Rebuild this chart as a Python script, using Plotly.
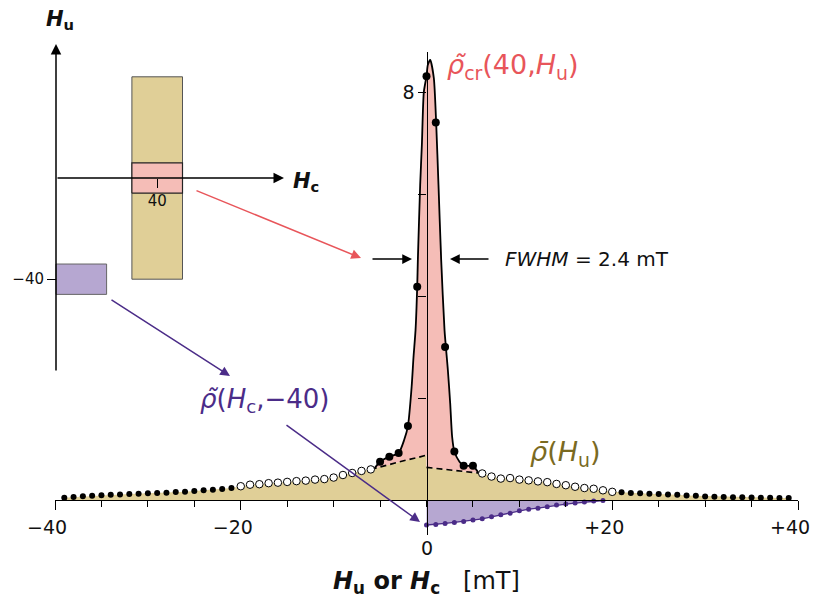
import plotly.graph_objects as go

# ---------------- data ----------------
# rho-bar(H_u): left branch -39..0 and right branch 0..39 (discontinuous at 0)
Hu_left = list(range(-39, 1))
rho_bar_left = [0.046, 0.059, 0.072, 0.085, 0.092, 0.105, 0.11, 0.118, 0.124, 0.13,
                0.137, 0.144, 0.157, 0.163, 0.176, 0.19, 0.20, 0.216, 0.235,
                0.27, 0.30, 0.31, 0.33, 0.34, 0.355, 0.37, 0.38, 0.40, 0.41, 0.44,
                0.49, 0.53, 0.57, 0.60,
                0.65, 0.69, 0.74, 0.79, 0.83, 0.88]
Hu_right = list(range(0, 40))
rho_bar_right = [0.64, 0.62, 0.60, 0.58, 0.56, 0.54,
                 0.52, 0.46, 0.42, 0.43, 0.40, 0.385, 0.365, 0.35, 0.315, 0.29,
                 0.26, 0.235, 0.22, 0.19, 0.16,
                 0.15, 0.135, 0.13, 0.125, 0.12, 0.11, 0.105, 0.09, 0.085, 0.07,
                 0.065, 0.06, 0.055, 0.055, 0.05, 0.045, 0.045, 0.04, 0.04]

# rho_cr(40, H_u): measured points near the peak
Hu_pts = [-5, -4, -3, -2, -1, 0, 1, 2, 3, 4, 5]
rho_cr_pts = [0.75, 0.85, 0.92, 1.45, 4.18, 8.31, 7.40, 3.0, 0.95, 0.67, 0.67]

# rho_cr fitted curve
fit_x = [-5.6, -5, -4, -3, -2.4, -2.0, -1.6, -1.4, -1.18, -1.0, -0.93, -0.68, -0.5,
         -0.29, 0, 0.14, 0.4, 0.79, 1.04, 1.29, 1.58, 1.94, 2.3, 2.55, 2.76, 3.0,
         3.55, 4, 5, 5.6]
fit_y = [0.62, 0.75, 0.85, 0.92, 1.18, 1.45, 2.22, 2.8, 3.33, 4.18, 4.71, 6.18, 6.96,
         8.0, 8.31, 8.53, 8.63, 8.27, 7.40, 6.18, 4.71, 3.33, 2.55, 1.9, 1.24, 0.95,
         0.75, 0.67, 0.67, 0.53]

# rho(H_c, -40)
Hc_pur = list(range(0, 20))
rho_pur = [-0.49, -0.48, -0.46, -0.44, -0.42, -0.39, -0.37, -0.33, -0.29, -0.26,
           -0.21, -0.18, -0.16, -0.13, -0.10, -0.08, -0.06, -0.04, -0.02, -0.01]

# inset schematic (H_c, H_u in mT)
inset_tan_Hc = [30, 50]
inset_tan_Hu = [-40, 40]
inset_band_Hu = [-6, 6]
inset_pur_Hc = [0, 20]
inset_pur_Hu = [-46, -34]

x_tickvals = [-40, -20, 20, 40]
x_ticktext = ["\u221240", "\u221220", "+20", "+40"]
y_tickvals = [2, 4, 6, 8]
y_ticktext = ["", "", "", "8"]

# ---------------- styling / geometry ----------------
W, H = 814, 605
L, R, T, B = 55, 16, 52, 70
PW, PH = W - L - R, H - T - B
Y0_PX, PX_PER_UNIT = 500, 51.0
ymin = -(H - B - Y0_PX) / PX_PER_UNIT
ymax = (Y0_PX - T) / PX_PER_UNIT

INSET_O = (56, 178)
INSET_S = 2.53
inset_xdom = [0, 0.45]

TAN = "#E0CF97"
PINK = "#F5BDB7"
PURF = "#B6A7D1"
PURL = "#4B2C88"
RED = "#E8555A"
OLIVE = "#7A6A22"
FONT = "DejaVu Sans"


def P(px, py):
    return (px - L) / PW, (H - B - py) / PH


def centered_number(t):
    # keep the digits centred on the tick, sign hanging to the left
    if t[0] in "+\u2212":
        return t + "<span style='color:rgba(0,0,0,0)'>" + t[0] + "</span>"
    return t


fig = go.Figure()

# tan fill under rho-bar
fig.add_trace(go.Scatter(x=Hu_left + Hu_right, y=rho_bar_left + rho_bar_right,
                         mode="lines", line=dict(width=0), fill="tozeroy",
                         fillcolor=TAN, hoverinfo="skip"))
# pink area between dashed baseline and peak curve
k = 6
px_poly = fit_x + Hu_right[:k][::-1] + Hu_left[-k:][::-1]
py_poly = fit_y + rho_bar_right[:k][::-1] + rho_bar_left[-k:][::-1]
fig.add_trace(go.Scatter(x=px_poly, y=py_poly, mode="lines", line=dict(width=0),
                         fill="toself", fillcolor=PINK, hoverinfo="skip"))
# purple
fig.add_trace(go.Scatter(x=Hc_pur, y=rho_pur, mode="lines+markers",
                         line=dict(color=PURL, width=1.3), fill="tozeroy",
                         fillcolor=PURF, marker=dict(size=5, color=PURL)))
# dashed continuation of rho-bar under the peak
dx = Hu_left[-(k + 1):] + [None] + Hu_right[:k + 1]
dy = rho_bar_left[-(k + 1):] + [None] + rho_bar_right[:k + 1]
fig.add_trace(go.Scatter(x=dx, y=dy, mode="lines",
                         line=dict(color="black", width=1.6, dash="6px,4px")))
# peak curve
fig.add_trace(go.Scatter(x=fit_x, y=fit_y, mode="lines",
                         line=dict(color="black", width=1.8, shape="spline", smoothing=0.6)))

# markers
allx = Hu_left[:-1] + Hu_right[1:]
ally = rho_bar_left[:-1] + rho_bar_right[1:]
tail = [(x, y) for x, y in zip(allx, ally) if abs(x) >= 21]
openc = [(x, y) for x, y in zip(allx, ally) if 6 <= abs(x) <= 20]
fig.add_trace(go.Scatter(x=[p[0] for p in tail], y=[p[1] for p in tail], mode="markers",
                         marker=dict(size=6, color="black")))
fig.add_trace(go.Scatter(x=[p[0] for p in openc], y=[p[1] for p in openc], mode="markers",
                         marker=dict(size=7.5, color="white", line=dict(color="black", width=1))))
fig.add_trace(go.Scatter(x=Hu_pts, y=rho_cr_pts, mode="markers",
                         marker=dict(size=8, color="black")))

# inset rectangles (on inset axes)
def rect(xs, ys):
    return [xs[0], xs[1], xs[1], xs[0], xs[0]], [ys[0], ys[0], ys[1], ys[1], ys[0]]

rx, ry = rect(inset_tan_Hc, inset_tan_Hu)
fig.add_trace(go.Scatter(x=rx, y=ry, xaxis="x2", yaxis="y2", mode="lines", fill="toself",
                         fillcolor=TAN, line=dict(color="#555555", width=1)))
rx, ry = rect(inset_tan_Hc, inset_band_Hu)
fig.add_trace(go.Scatter(x=rx, y=ry, xaxis="x2", yaxis="y2", mode="lines", fill="toself",
                         fillcolor=PINK, line=dict(color="#222222", width=1.2)))
rx, ry = rect(inset_pur_Hc, inset_pur_Hu)
fig.add_trace(go.Scatter(x=rx, y=ry, xaxis="x2", yaxis="y2", mode="lines", fill="toself",
                         fillcolor=PURF, line=dict(color="#666666", width=1)))

# inset axis ranges from pixel geometry
x2_range = [(L + inset_xdom[0] * PW - INSET_O[0]) / INSET_S,
            (L + inset_xdom[1] * PW - INSET_O[0]) / INSET_S]
y2_range = [(INSET_O[1] - (H - B)) / INSET_S, (INSET_O[1] - T) / INSET_S]

fig.update_layout(
    width=W, height=H, margin=dict(l=L, r=R, t=T, b=B, autoexpand=False),
    paper_bgcolor="white", plot_bgcolor="rgba(0,0,0,0)", showlegend=False,
    font=dict(family=FONT, color="#111111"),
    xaxis=dict(range=[-40, 40], domain=[0, 1], anchor="free", automargin=False,
               position=(0 - ymin) / (ymax - ymin),
               showline=True, linecolor="black", linewidth=1.3, showgrid=False,
               zeroline=False, ticks="outside", ticklen=9, tickwidth=1.3,
               tickcolor="black", tickvals=x_tickvals,
               ticktext=[centered_number(t) for t in x_ticktext],
               tickfont=dict(size=19, family=FONT), ticklabelstandoff=1,
               ticklabeloverflow="allow",
               minor=dict(dtick=5, tick0=0, ticks="outside", ticklen=6,
                          tickwidth=1.2, tickcolor="black")),
    yaxis=dict(range=[ymin, ymax], domain=[0, 1], anchor="free", position=0.5,
               automargin=False,
               showline=True, linecolor="black", linewidth=1.3, showgrid=False,
               zeroline=False, ticks="outside", ticklen=8, tickwidth=1.2,
               tickcolor="black", tickvals=y_tickvals, ticktext=y_ticktext,
               tickfont=dict(size=19, family=FONT)),
    xaxis2=dict(domain=inset_xdom, range=x2_range, anchor="free", automargin=False,
                position=(H - B - INSET_O[1]) / PH, showline=False, showgrid=False,
                zeroline=False, ticks="outside", ticklen=9, tickwidth=1.2,
                tickcolor="black", tickvals=[40], ticktext=["40"],
                tickfont=dict(size=15, family=FONT)),
    yaxis2=dict(domain=[0, 1], range=y2_range, anchor="free", automargin=False,
                position=(INSET_O[0] - L) / PW, showline=False, showgrid=False,
                zeroline=False, ticks="outside", ticklen=9, tickwidth=1.2,
                tickcolor="black", tickvals=[-40], ticktext=["\u221240"],
                ticklabeloverflow="allow",
                tickfont=dict(size=15, family=FONT)),
)


def arrow(tail, tip, color, width=1.6, size=1.3):
    tx, ty = P(*tip)
    fig.add_annotation(x=tx, y=ty, xref="paper", yref="paper", text="",
                       showarrow=True, ax=tail[0] - tip[0], ay=tail[1] - tip[1],
                       arrowhead=2, arrowsize=size, arrowwidth=width,
                       arrowcolor=color, standoff=0, startstandoff=0)


def label(px, py, text, size, color="#111111", xanchor="left"):
    x, y = P(px, py)
    fig.add_annotation(x=x, y=y, xref="paper", yref="paper", text=text,
                       showarrow=False, xanchor=xanchor, yanchor="middle",
                       font=dict(size=size, color=color, family=FONT))


# inset axes arrows
arrow((56, 372), (56, 44), "black", width=1.5, size=1.4)
arrow((56, 178), (284, 178), "black", width=1.5, size=1.4)
label(60, 20, "<b><i>H</i><sub>u</sub></b>", 21, xanchor="center")
label(291, 182, "<b><i>H</i><sub>c</sub></b>", 21)

# pointer arrows
arrow((195, 190), (361, 258), RED, width=1.5)
arrow((110, 299), (230, 376), PURL, width=1.5)
arrow((285, 424), (420, 522), PURL, width=1.5)
arrow((371, 259), (412, 259), "black", width=1.5)
arrow((490, 259), (450, 259), "black", width=1.5)

label(445, 66, "<i>\u03c1\u0303</i><sub>cr</sub>(40,<i>H</i><sub>u</sub>)", 27, RED)
label(503, 259, "<i>FWHM</i> = 2.4 mT", 20)
label(198, 400, "<i>\u03c1\u0303</i>(<i>H</i><sub>c</sub>,\u221240)", 26, PURL)
label(528, 453, "<i>\u03c1\u0304</i>(<i>H</i><sub>u</sub>)", 27, OLIVE)
label(427, 548, "0", 19, xanchor="center")
label(427, 582, "<b><i>H</i><sub>u</sub> or <i>H</i><sub>c</sub></b>\u00a0\u00a0\u00a0[mT]", 24,
      xanchor="center")

fig.write_html("out.html", config={"displayModeBar": False},
               post_script="document.body.style.margin='0px';document.body.style.overflow='hidden';")
